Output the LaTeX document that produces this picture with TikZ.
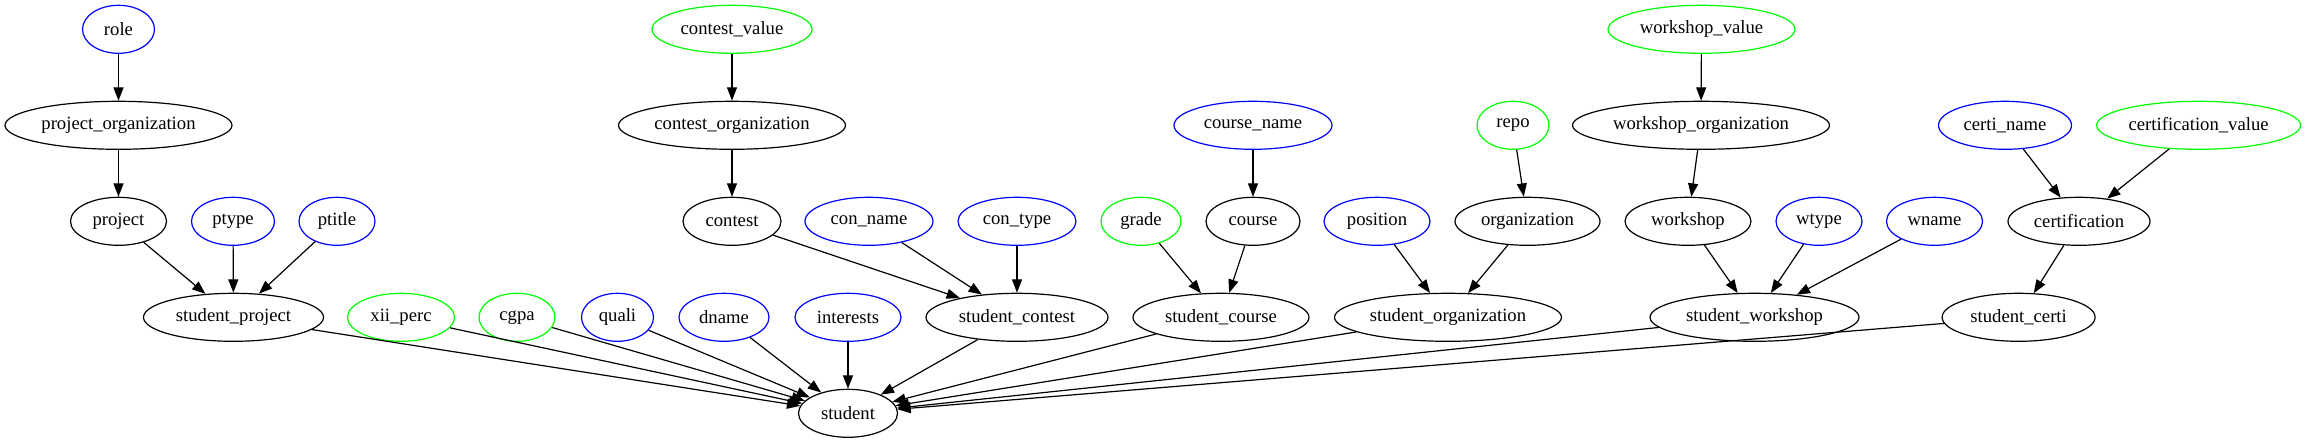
\documentclass[tikz,border=0pt]{standalone}
\usepackage{fontspec}
\setmainfont{Liberation Serif}
\usetikzlibrary{shapes.geometric,arrows.meta}
\definecolor{gvblue}{RGB}{0,0,255}
\definecolor{gvgreen}{RGB}{0,255,0}
\newcommand\lbl[1]{\makebox[0pt]{#1}}
\begin{document}
\begin{tikzpicture}[x=0.75pt,y=-0.75pt,
  ent/.style={ellipse,draw=black,line width=0.9pt,inner sep=0pt,minimum height=36pt,font=\fontsize{14}{16}\selectfont},
  attb/.style={ent,draw=gvblue},
  attg/.style={ent,draw=gvgreen},
  lnk/.style={-{Triangle[length=10pt,width=7.5pt]},line width=0.9pt}]
\useasboundingbox (0,0) rectangle (2307,443);
% rank 1
\node[attb,minimum width=54pt] (role) at (118.5,29.3) {\lbl{role}};
\node[attg,minimum width=120pt] (contestvalue) at (732,29.3) {\lbl{contest\_value}};
\node[attg,minimum width=140.25pt] (workshopvalue) at (1701.5,29.3) {\lbl{workshop\_value}};
% rank 2
\node[ent,minimum width=170.25pt] (projorg) at (118.5,125.3) {\lbl{project\_organization}};
\node[ent,minimum width=170.25pt] (contorg) at (732,125.3) {\lbl{contest\_organization}};
\node[attb,minimum width=118.5pt] (coursename) at (1253,125.3) {\lbl{course\_name}};
\node[attg,minimum width=54pt] (repo) at (1513,125.3) {\lbl{repo}};
\node[ent,minimum width=192.75pt] (workorg) at (1701,125.3) {\lbl{workshop\_organization}};
\node[attb,minimum width=99.75pt] (certiname) at (2005,125.3) {\lbl{certi\_name}};
\node[attg,minimum width=153pt] (certvalue) at (2198.6,125.3) {\lbl{certification\_value}};
% rank 3
\node[ent,minimum width=72pt] (project) at (118.5,221.3) {\lbl{project}};
\node[attb,minimum width=62.25pt] (ptype) at (233,221.3) {\lbl{ptype}};
\node[attb,minimum width=57pt] (ptitle) at (337,221.3) {\lbl{ptitle}};
\node[ent,minimum width=73.5pt] (contest) at (732,221.3) {\lbl{contest}};
\node[attb,minimum width=96pt] (conname) at (869,221.3) {\lbl{con\_name}};
\node[attb,minimum width=88.5pt] (contype) at (1017,221.3) {\lbl{con\_type}};
\node[attg,minimum width=60pt] (grade) at (1141,221.3) {\lbl{grade}};
\node[ent,minimum width=70.5pt] (course) at (1253,221.3) {\lbl{course}};
\node[attb,minimum width=79.5pt] (position) at (1377,221.3) {\lbl{position}};
\node[ent,minimum width=108.75pt] (organization) at (1527.5,221.3) {\lbl{organization}};
\node[ent,minimum width=94.5pt] (workshop) at (1688,221.3) {\lbl{workshop}};
\node[attb,minimum width=64.5pt] (wtype) at (1819,221.3) {\lbl{wtype}};
\node[attb,minimum width=72pt] (wname) at (1934.5,221.3) {\lbl{wname}};
\node[ent,minimum width=106.5pt] (certification) at (2079,221.3) {\lbl{certification}};
% rank 4
\node[ent,minimum width=135pt] (sproject) at (233.5,317.3) {\lbl{student\_project}};
\node[attg,minimum width=80.25pt] (xiiperc) at (401,317.3) {\lbl{xii\_perc}};
\node[attg,minimum width=57pt] (cgpa) at (517,317.3) {\lbl{cgpa}};
\node[attb,minimum width=54pt] (quali) at (617.5,317.3) {\lbl{quali}};
\node[attb,minimum width=67.5pt] (dname) at (724,317.3) {\lbl{dname}};
\node[attb,minimum width=79.5pt] (interests) at (848,317.3) {\lbl{interests}};
\node[ent,minimum width=136.5pt] (scontest) at (1017,317.3) {\lbl{student\_contest}};
\node[ent,minimum width=132pt] (scourse) at (1221,317.3) {\lbl{student\_course}};
\node[ent,minimum width=170.25pt] (sorg) at (1448,317.3) {\lbl{student\_organization}};
\node[ent,minimum width=156.75pt] (sworkshop) at (1754.5,317.3) {\lbl{student\_workshop}};
\node[ent,minimum width=114.75pt] (scerti) at (2018.6,317.3) {\lbl{student\_certi}};
% rank 5
\node[ent,minimum width=74.25pt] (student) at (848,413.3) {\lbl{student}};
% edges
\draw[lnk] (role) -- (projorg);
\draw[lnk] (projorg) -- (project);
\draw[lnk] (project) -- (sproject);
\draw[lnk] (ptype) -- (sproject);
\draw[lnk] (ptitle) -- (sproject);
\draw[lnk] (contestvalue) -- (contorg);
\draw[lnk] (contorg) -- (contest);
\draw[lnk] (contest) -- (scontest);
\draw[lnk] (conname) -- (scontest);
\draw[lnk] (contype) -- (scontest);
\draw[lnk] (coursename) -- (course);
\draw[lnk] (grade) -- (scourse);
\draw[lnk] (course) -- (scourse);
\draw[lnk] (repo) -- (organization);
\draw[lnk] (position) -- (sorg);
\draw[lnk] (organization) -- (sorg);
\draw[lnk] (workshopvalue) -- (workorg);
\draw[lnk] (workorg) -- (workshop);
\draw[lnk] (workshop) -- (sworkshop);
\draw[lnk] (wtype) -- (sworkshop);
\draw[lnk] (wname) -- (sworkshop);
\draw[lnk] (certiname) -- (certification);
\draw[lnk] (certvalue) -- (certification);
\draw[lnk] (certification) -- (scerti);
\foreach \s in {sproject,xiiperc,cgpa,quali,dname,interests,scontest,scourse,sorg,sworkshop,scerti}
  \draw[lnk] (\s) -- (student);
\end{tikzpicture}
\end{document}
